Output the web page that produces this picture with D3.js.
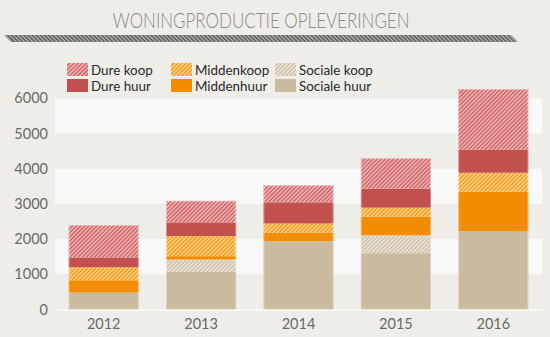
<!DOCTYPE html>
<html>
<head>
<meta charset="utf-8">
<script src="https://cdn.jsdelivr.net/npm/d3@7"></script>
<style>
  html, body { margin: 0; padding: 0; background: #eeede8; }
  svg { display: block; font-family: Lato, "Open Sans", sans-serif; }
</style>
</head>
<body>
<svg id="chart" width="550" height="337"></svg>
<script>
// jaren en series (aantal opgeleverde woningen)
const years = ['2012', '2013', '2014', '2015', '2016'];
const socialeHuur = [480, 1070, 1945, 1600, 2230];
const socialeKoop = [0, 350, 0, 510, 0];
const middenHuur = [350, 95, 235, 530, 1115];
const middenKoop = [370, 570, 265, 255, 540];
const dureHuur = [280, 390, 600, 540, 655];
const dureKoop = [920, 615, 485, 865, 1725];
const yTicks = [0, 1000, 2000, 3000, 4000, 5000, 6000];

const series = [
  { key: 'sh', name: 'Sociale huur', values: socialeHuur, fill: '#cabb9f' },
  { key: 'sk', name: 'Sociale koop', values: socialeKoop, fill: 'url(#hatch-sk)' },
  { key: 'mh', name: 'Middenhuur', values: middenHuur, fill: '#f28c00' },
  { key: 'mk', name: 'Middenkoop', values: middenKoop, fill: 'url(#hatch-mk)' },
  { key: 'dh', name: 'Dure huur', values: dureHuur, fill: '#c2504f' },
  { key: 'dk', name: 'Dure koop', values: dureKoop, fill: 'url(#hatch-dk)' }
];

const svg = d3.select('#chart');
const defs = svg.append('defs');

function hatch(id, base, stripe, size, angle) {
  const p = defs.append('pattern')
    .attr('id', id)
    .attr('patternUnits', 'userSpaceOnUse')
    .attr('width', size).attr('height', size)
    .attr('patternTransform', `rotate(${angle})`);
  p.append('rect').attr('width', size).attr('height', size).attr('fill', base);
  p.append('rect').attr('width', size / 2).attr('height', size).attr('fill', stripe);
}
hatch('hatch-dk', '#cf5a5e', '#efc0c0', 2.9, 45);
hatch('hatch-mk', '#f4961a', '#fdd78c', 2.9, 45);
hatch('hatch-sk', '#cbbca2', '#eee8dd', 2.9, 45);
hatch('hatch-title', '#b5b5b3', '#555555', 2.9, -45);

// titel
svg.append('text')
  .attr('x', 261).attr('y', 28)
  .attr('text-anchor', 'middle')
  .attr('fill', '#8c8c8c')
  .attr('font-size', 21)
  .attr('font-weight', 300)
  .attr('textLength', 297)
  .attr('lengthAdjust', 'spacingAndGlyphs')
  .text('WONINGPRODUCTIE OPLEVERINGEN');

svg.append('path')
  .attr('d', 'M4,35 L511,35 L518,42 L11,42 Z')
  .attr('fill', 'url(#hatch-title)');

// schalen
const x = d3.scaleBand().domain(years).range([55, 542]).paddingInner(0.28).paddingOuter(0.14);
const y = d3.scaleLinear().domain([0, 6000]).range([309.5, 98.3]);

// witte banden
const bands = [[1000, 2000], [3000, 4000], [5000, 6000]];
svg.append('g').selectAll('rect')
  .data(bands)
  .join('rect')
  .attr('x', 55).attr('width', 487)
  .attr('y', d => y(d[1]))
  .attr('height', d => y(d[0]) - y(d[1]))
  .attr('fill', '#faf9f9');

svg.append('line')
  .attr('x1', 55).attr('x2', 542)
  .attr('y1', y(0) + 0.5).attr('y2', y(0) + 0.5)
  .attr('stroke', '#fbfbfa').attr('stroke-width', 1.5);

// y-as
const yAxis = svg.append('g')
  .attr('transform', 'translate(48,0)')
  .call(d3.axisLeft(y).tickValues(yTicks).tickSize(0).tickPadding(0).tickFormat(d3.format('d')));
yAxis.select('.domain').remove();
yAxis.selectAll('text')
  .attr('font-family', 'Lato, sans-serif')
  .attr('font-size', 14.5)
  .attr('fill', '#6a6a6a');

// x-as
const xAxis = svg.append('g')
  .attr('transform', `translate(0,${y(0)})`)
  .call(d3.axisBottom(x).tickSize(0).tickPadding(9));
xAxis.select('.domain').remove();
xAxis.selectAll('text')
  .attr('font-family', 'Lato, sans-serif')
  .attr('font-size', 14.5)
  .attr('fill', '#6a6a6a');

// gestapelde balken
const rows = years.map((yr, i) => {
  const r = { year: yr };
  series.forEach(s => { r[s.key] = s.values[i]; });
  return r;
});
const stack = d3.stack().keys(series.map(s => s.key));
const stacked = stack(rows);

svg.append('g').selectAll('g')
  .data(stacked)
  .join('g')
  .attr('fill', (d, i) => series[i].fill)
  .selectAll('rect')
  .data(d => d)
  .join('rect')
  .attr('x', d => x(d.data.year))
  .attr('width', x.bandwidth())
  .attr('y', d => y(d[1]))
  .attr('height', d => y(d[0]) - y(d[1]));

// lichte rand om de balken
svg.append('g').selectAll('rect')
  .data(rows)
  .join('rect')
  .attr('x', d => x(d.year) + 0.5)
  .attr('width', x.bandwidth() - 1)
  .attr('y', d => y(d3.sum(series, s => d[s.key])) + 0.5)
  .attr('height', d => y(0) - y(d3.sum(series, s => d[s.key])) - 1)
  .attr('fill', 'none')
  .attr('stroke', 'rgba(255,255,255,0.35)');

// legenda
const legendItems = [
  { s: series[5], col: 0, row: 0 },
  { s: series[4], col: 0, row: 1 },
  { s: series[3], col: 1, row: 0 },
  { s: series[2], col: 1, row: 1 },
  { s: series[1], col: 2, row: 0 },
  { s: series[0], col: 2, row: 1 }
];
const colX = [67, 171, 275];
const legend = svg.append('g').selectAll('g')
  .data(legendItems)
  .join('g')
  .attr('transform', d => `translate(${colX[d.col]},${63 + d.row * 16})`);
legend.append('rect')
  .attr('width', 21).attr('height', 13)
  .attr('fill', d => d.s.fill);
legend.append('text')
  .attr('x', 24).attr('y', 11.5)
  .attr('font-size', 13.4)
  .attr('fill', '#2a2a2a')
  .text(d => d.s.name);
</script>
</body>
</html>
